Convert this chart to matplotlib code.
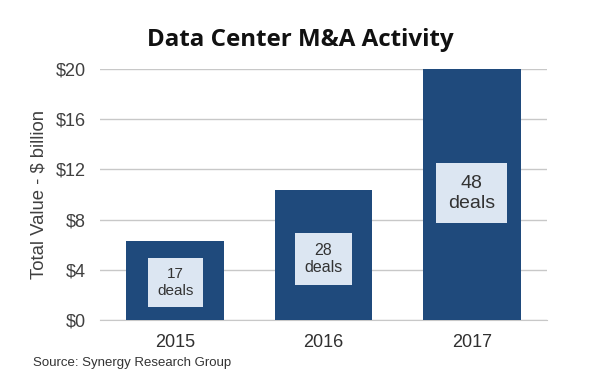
import matplotlib
matplotlib.use("Agg")
import matplotlib.pyplot as plt
import numpy as np

# Data
years = ["2015", "2016", "2017"]
values = [6.3, 10.4, 20.0]          # total value, $ billion
deal_counts = [17, 28, 48]
label_y = [3.0, 4.85, 10.1]          # where the deal-count boxes sit
label_sizes = [11, 11.5, 14]
yticks = [0, 4, 8, 12, 16, 20]

bar_color = "#1F4A7C"
box_color = "#DCE6F2"
grid_color = "#C8C8C8"

plt.rcParams["font.family"] = ["Liberation Sans", "DejaVu Sans"]

fig = plt.figure(figsize=(6, 3.89), dpi=100)
ax = fig.add_axes([0.167, 0.177, 0.745, 0.6455])

x = np.arange(len(years))
ax.bar(x, values, width=0.66, color=bar_color, zorder=3)

for xi, n, ly, fs in zip(x, deal_counts, label_y, label_sizes):
    ax.text(xi, ly, f"{n}\ndeals", ha="center", va="center", fontsize=fs,
            color="#333333", linespacing=1.2, zorder=4,
            bbox=dict(boxstyle="square,pad=0.6", fc=box_color, ec="none"))

ax.set_xlim(-0.507, 2.51)
ax.set_ylim(0, 20)
ax.set_yticks(yticks)
ax.set_yticklabels([f"${v}" for v in yticks], fontsize=13, color="#404040")
ax.set_xticks(x)
ax.set_xticklabels(years, fontsize=13, color="#303030")
ax.tick_params(axis="both", length=0)
ax.tick_params(axis="x", pad=10)
ax.tick_params(axis="y", pad=10)

ax.grid(True, axis="y", color=grid_color, linewidth=1, zorder=0)
for s in ["top", "right", "left"]:
    ax.spines[s].set_visible(False)
ax.spines["bottom"].set_color(grid_color)

ax.set_ylabel("Total Value - $ billion", fontsize=13.3, color="#404040")
ax.yaxis.set_label_coords(-0.117, 0.5)

fig.text(0.5, 0.897, "Data Center M&A Activity", ha="center", va="center",
         fontsize=17.4, fontweight="bold", family=["Open Sans", "DejaVu Sans"],
         color="#111111")
fig.text(0.055, 0.067, "Source: Synergy Research Group", ha="left", va="center",
         fontsize=9.5, color="#333333")

plt.savefig("out.png", dpi=100)
